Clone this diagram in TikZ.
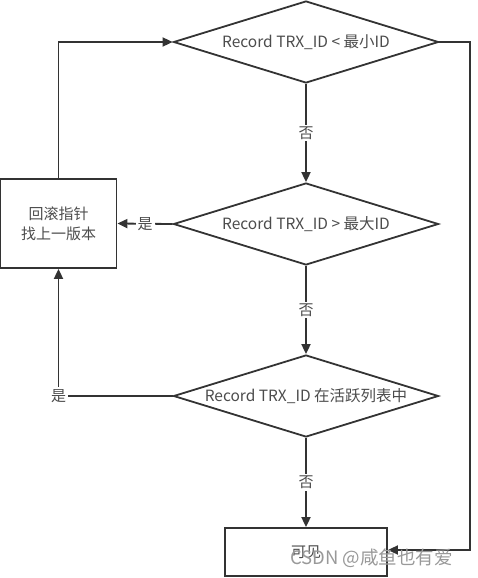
\documentclass[tikz,border=0pt]{standalone}
\usepackage{fontspec}
\setmainfont{Noto Sans CJK SC}
\usetikzlibrary{shapes.geometric,arrows.meta}
\begin{document}
\begin{tikzpicture}[x=1pt,y=-1pt,
  line/.style={draw=black!80,line width=1.8pt},
  arr/.style={line,-{Triangle[length=10pt,width=9pt]}},
  dec/.style={diamond,draw=black!80,line width=1.8pt,aspect=3.2,minimum width=265pt,minimum height=82pt,inner sep=0pt,text=black!70,font=\fontsize{15.5}{17}\selectfont},
  boxnode/.style={rectangle,draw=black!80,line width=1.8pt,text=black!70,font=\fontsize{15}{20}\selectfont,align=center},
  lbl/.style={fill=white,text=black!70,font=\fontsize{15}{17}\selectfont,inner sep=2pt}]
\useasboundingbox (0,0) rectangle (477,578);
\node[dec] (d1) at (306,42) {Record TRX\_ID < 最小ID};
\node[dec] (d2) at (306,224) {Record TRX\_ID > 最大ID};
\node[dec] (d3) at (306,396) {Record TRX\_ID 在活跃列表中};
\node[boxnode,minimum width=116pt,minimum height=89pt] (back) at (58.5,223.5) {回滚指针\\找上一版本};
\node[boxnode,minimum width=162pt,minimum height=48pt] (ok) at (306,552) {可见};
\coordinate (tr) at (470,42);
\coordinate (br) at (470,550);
\coordinate (tl) at (58.5,42);
\coordinate (bl) at (58.5,396);
\draw[arr] (d1.south) -- node[lbl]{否} (d2.north);
\draw[arr] (d2.south) -- node[lbl]{否} (d3.north);
\draw[arr] (d3.south) -- node[lbl]{否} (ok.north);
\draw[arr] (d2.west) -- node[lbl,pos=0.5]{是} (back.east);
\draw[arr] (d3.west) -- node[lbl,pos=1]{是} (bl) -- (back.south);
\draw[arr] (back.north) -- (tl) -- (d1.west);
\draw[arr] (d1.east) -- (tr) -- (br) -- (ok.east |- br);
\node[text=black!40,font=\fontsize{18.5}{20}\selectfont,anchor=west,inner sep=0pt] (wm) at (290,558) {CSDN @咸鱼也有爱};
\end{tikzpicture}
\end{document}
